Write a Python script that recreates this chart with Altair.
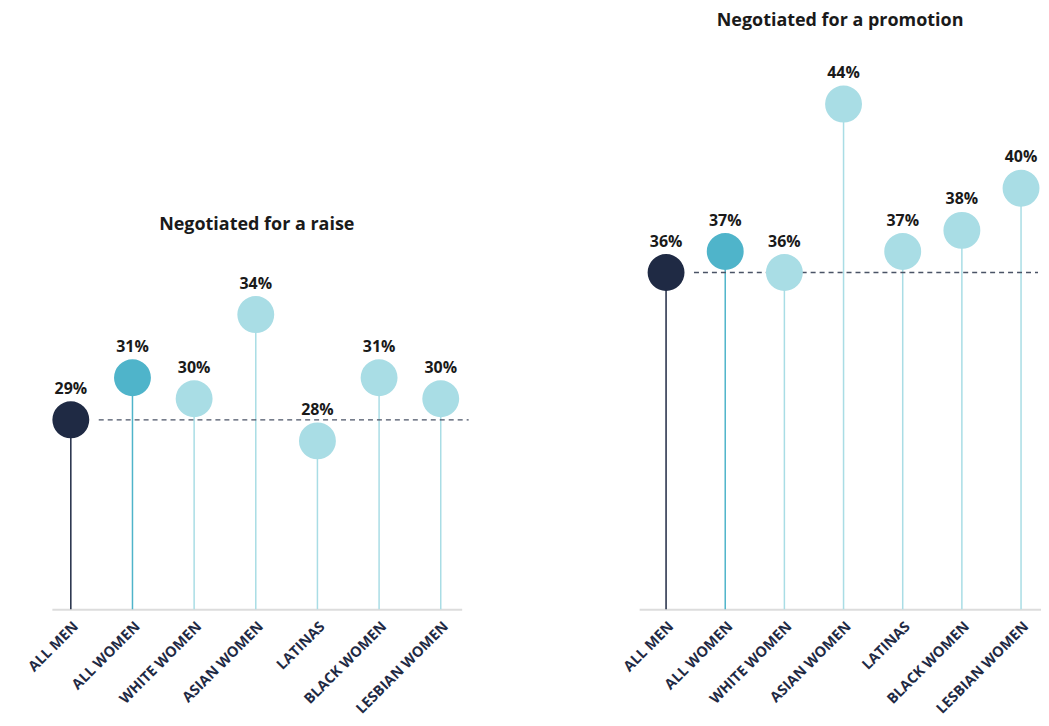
import altair as alt
import pandas as pd

categories = ["ALL MEN", "ALL WOMEN", "WHITE WOMEN", "ASIAN WOMEN", "LATINAS", "BLACK WOMEN", "LESBIAN WOMEN"]
roles = ["men", "women", "sub", "sub", "sub", "sub", "sub"]
raise_values = [29, 31, 30, 34, 28, 31, 30]
promotion_values = [36, 37, 36, 44, 37, 38, 40]

role_domain = ["men", "women", "sub"]
role_colors = ["#1f2a44", "#4fb4ca", "#a9dde5"]

FONT = "Open Sans"
Y_DOMAIN = [20, 47]


def panel(values, title, width, pad, align, title_dy, dash_end):
    df = pd.DataFrame({"cat": categories, "role": roles, "val": values})
    df["label"] = df["val"].astype(str) + "%"

    x = alt.X("cat:N", sort=categories,
              scale=alt.Scale(type="point", padding=pad, align=align),
              axis=alt.Axis(title=None, labelAngle=-45, ticks=False,
                            domainColor="#dcdcdc", domainWidth=2,
                            labelColor="#1f2a44", labelFont=FONT,
                            labelFontSize=14.5, labelFontWeight="bold",
                            labelPadding=10))
    y = alt.Y("val:Q", scale=alt.Scale(domain=Y_DOMAIN, nice=False, zero=False), axis=None)
    color = alt.Color("role:N", scale=alt.Scale(domain=role_domain, range=role_colors), legend=None)

    base = alt.Chart(df)
    stems = base.mark_rule(strokeWidth=1.5).encode(x=x, y=y, y2=alt.datum(20), color=color)
    ref = base.transform_filter(alt.datum.role == "men").mark_rule(
        strokeDash=[5, 4], strokeWidth=1.3, color="#4a5366", xOffset=28
    ).encode(x=x, x2=alt.value(dash_end), y=y)
    dots = base.mark_circle(size=1370, opacity=1).encode(x=x, y=y, color=color)
    labels = base.mark_text(font=FONT, fontSize=16, fontWeight="bold", color="#1a1a1a",
                            baseline="middle", dy=-31).encode(x=x, y=y, text="label:N")

    return alt.layer(stems, ref, dots, labels).properties(
        width=width, height=570,
        title=alt.TitleParams(title, font=FONT, fontSize=18, fontWeight="bold",
                              color="#1a1a1a", anchor="middle", dy=title_dy, offset=11),
    )


left = panel(raise_values, "Negotiated for a raise", 411, 0.3235, 0.475, 205, 418)
right = panel(promotion_values, "Negotiated for a promotion", 403, 0.396, 0.574, 0, 400)

chart = alt.hconcat(left, right, spacing=151).configure_view(stroke=None).properties(
    background="white", padding={"left": 17, "top": 3, "right": 0, "bottom": 0}
)

chart.save("out.html", embed_options={"renderer": "svg", "actions": False})
